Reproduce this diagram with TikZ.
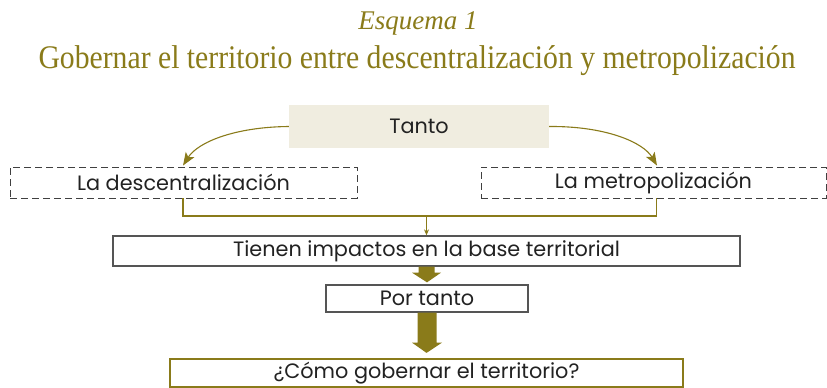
\documentclass[tikz,border=0pt]{standalone}
\usepackage{fontspec}
\setmainfont{Liberation Serif}
\newfontfamily\sansf{Poppins}
\usetikzlibrary{calc,arrows.meta}
\definecolor{olive1}{HTML}{8A7B1A}
\definecolor{beige1}{HTML}{F0EDE0}
\definecolor{edge1}{HTML}{555555}
\definecolor{ink1}{HTML}{222222}
\tikzset{
  txt/.style={font=\sansf\fontsize{20.8}{24}\selectfont, text=ink1, inner sep=0pt},
  dashbox/.style={txt, draw=black!75, line width=0.9pt, dash pattern=on 7pt off 4pt},
  solidbox/.style={txt, draw=edge1, line width=1.3pt},
  curvearrow/.style={draw=olive1, line width=1.1pt, -{Stealth[length=13pt,width=10pt,inset=3pt]}},
  link/.style={draw=olive1, line width=1.1pt},
  smallarrow/.style={draw=olive1, line width=1.1pt, -{Stealth[length=6pt,width=5pt]}},
}
\begin{document}
\begin{tikzpicture}[x=1pt,y=-1pt]
\useasboundingbox (0,0) rectangle (827,388);
\node[text=olive1, font=\itshape\fontsize{27}{30}\selectfont, inner sep=0pt] (t1) at (418,23) {Esquema 1};
\node[text=olive1, font=\fontsize{33}{36}\selectfont, inner sep=0pt] (t2) at (417,61) {\scalebox{0.9}[1]{Gobernar el territorio entre descentralización y metropolización}};
\node[txt, fill=beige1, minimum width=260pt, minimum height=43pt] (tanto) at (419,126.5) {Tanto};
\node[dashbox, minimum width=347pt, minimum height=31pt] (ld) at (183.5,182.5) {La descentralización};
\node[dashbox, minimum width=345pt, minimum height=31pt] (rd) at (653.5,182.5) {La metropolización};
\node[solidbox, minimum width=627pt, minimum height=30pt] (imp) at (426.5,251) {Tienen impactos en la base territorial};
\node[solidbox, minimum width=202pt, minimum height=27pt] (por) at (427,298.5) {Por tanto};
\node[txt, draw=olive1, line width=2.2pt, minimum width=513pt, minimum height=28pt] (como) at (426.5,373) {¿Cómo gobernar el territorio?};
\draw[curvearrow] (tanto.west) .. controls (235,127) and (198,142) .. ($(ld.north)+(-0.5,-1)$);
\draw[curvearrow] (tanto.east) .. controls (605,126) and (643,142) .. ($(rd.north)+(3.5,-1)$);
\coordinate (mid) at (426.5,216);
\draw[link] ($(ld.south)+(-0.5,0)$) |- (mid) -| ($(rd.south)+(3,0)$);
\draw[smallarrow] (mid) -- (imp.north);
\fill[olive1] ($(imp.south)+(-8,0)$) -- ++(0,6) -- ++(-6.5,0) -- ($(por.north)+(0,-2)$) -- ($(imp.south)+(14.5,6)$) -- ++(-6.5,0) -- ($(imp.south)+(8,0)$) -- cycle;
\fill[olive1] ($(por.south)+(-9.5,0)$) -- ++(0,30) -- ++(-5.5,0) -- ($(como.north)+(0,-5)$) -- ($(por.south)+(15,30)$) -- ++(-5.5,0) -- ($(por.south)+(9.5,0)$) -- cycle;
\end{tikzpicture}
\end{document}
